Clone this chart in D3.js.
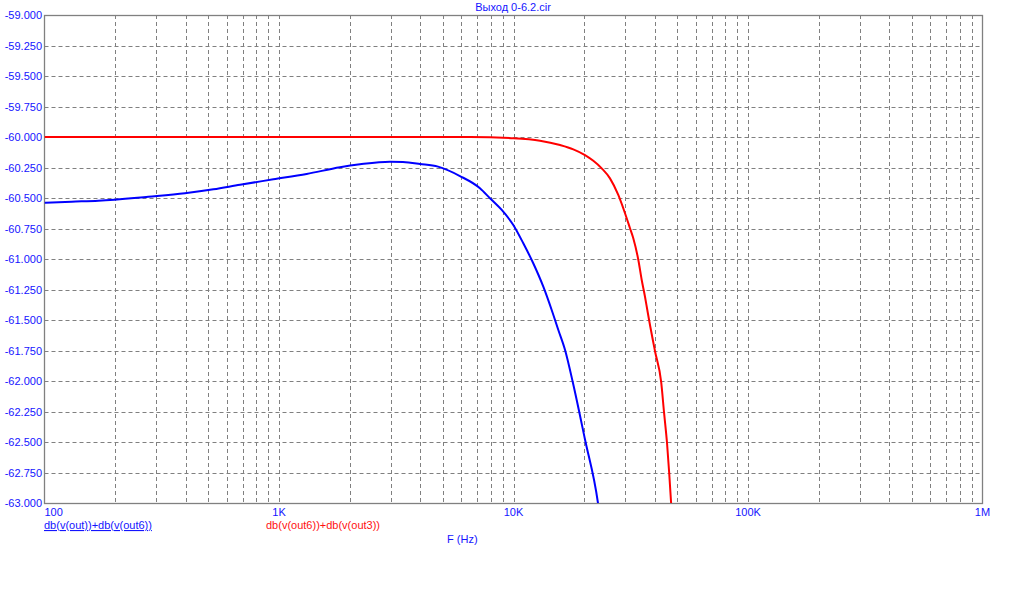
<!DOCTYPE html>
<html><head><meta charset="utf-8">
<script src="https://cdn.jsdelivr.net/npm/d3@7"></script>
<style>body{margin:0;background:#fff}svg{display:block}text{font-family:"Liberation Sans",Arial,sans-serif}</style>
</head><body><svg id="c" width="1011" height="600"></svg>
<script>
const title = "Выход 0-6.2.cir";
const xTickValues = [100, 1000, 10000, 100000, 1000000];
const xTickLabels = ["100", "1K", "10K", "100K", "1M"];
const yTickValues = d3.range(0, 17).map(i => -59 - i * 0.25);
const seriesNames = ["db(v(out))+db(v(out6))", "db(v(out6))+db(v(out3))"];
const xAxisLabel = "F (Hz)";

const blueF = [100, 130.6, 169.6, 277, 397, 525, 682, 946, 1312, 1820, 2215, 2973, 3379, 3993, 4765, 5910, 7194, 7940, 8910, 9980, 11010, 12140, 13400, 14550, 15530, 16590, 17930, 20180, 22920, 24000];
const blueV = [-60.539, -60.530, -60.522, -60.489, -60.461, -60.429, -60.391, -60.347, -60.303, -60.248, -60.224, -60.202, -60.205, -60.221, -60.243, -60.32, -60.420, -60.502, -60.598, -60.721, -60.871, -61.035, -61.227, -61.418, -61.582, -61.746, -62.016, -62.48, -63.0, -63.3];
const redF = [100, 1000, 6524, 10000, 12970, 15790, 17990, 20180, 21900, 23780, 25790, 27980, 29890, 31390, 32420, 34070, 35220, 36370, 37210, 37860, 40170, 42640, 43860, 45160, 46110, 47000, 48000];
const redV = [-60.0, -60.0, -60.0, -60.01, -60.03, -60.066, -60.101, -60.148, -60.195, -60.257, -60.339, -60.475, -60.625, -60.748, -60.83, -61.008, -61.172, -61.309, -61.418, -61.5, -61.76, -62.01, -62.26, -62.51, -62.75, -63.0, -63.3];

const L = 44.5, R = 982.5, T = 15, B = 503;
const svg = d3.select("#c");
const x = d3.scaleLog().domain([100, 1e6]).range([L, R]);
const y = d3.scaleLinear().domain([-63, -59]).range([B, T]);
const gridCol = "#808080", txtCol = "#1414ff";

const vgrid = [];
for (let d = 100; d < 1e6; d *= 10) for (let k = 1; k < 10; k++) vgrid.push(d * k);
svg.append("g").selectAll("line").data(vgrid.filter(v => v > 100)).join("line")
  .attr("x1", d => Math.round(x(d)) + 0.5).attr("x2", d => Math.round(x(d)) + 0.5)
  .attr("y1", T).attr("y2", B).attr("stroke", gridCol).attr("stroke-dasharray", "4,3");
svg.append("g").selectAll("line").data(yTickValues.slice(1, -1)).join("line")
  .attr("y1", d => Math.round(y(d)) + 0.5).attr("y2", d => Math.round(y(d)) + 0.5)
  .attr("x1", L).attr("x2", R).attr("stroke", gridCol).attr("stroke-dasharray", "4,3");
svg.append("rect").attr("x", L).attr("y", T + 0.5).attr("width", R - L).attr("height", B - T)
  .attr("fill", "none").attr("stroke", gridCol).attr("stroke-width", 1.3);

svg.append("g").selectAll("text").data(yTickValues).join("text")
  .attr("x", 42).attr("y", d => y(d) + 4).attr("text-anchor", "end")
  .attr("font-size", 11).attr("fill", txtCol).text(d => d.toFixed(3));
svg.append("g").selectAll("text").data(xTickValues).join("text")
  .attr("x", (d, i) => i === 0 ? L : x(d)).attr("y", 516)
  .attr("text-anchor", (d, i) => i === 0 ? "start" : "middle")
  .attr("font-size", 11).attr("fill", txtCol).text((d, i) => xTickLabels[i]);

svg.append("text").attr("x", 513).attr("y", 11).attr("text-anchor", "middle")
  .attr("font-size", 11).attr("fill", txtCol).text(title);
svg.append("text").attr("x", 44).attr("y", 529).attr("font-size", 11).attr("fill", txtCol)
  .attr("text-decoration", "underline").text(seriesNames[0]);
svg.append("text").attr("x", 266).attr("y", 529).attr("font-size", 11).attr("fill", "#ff1010")
  .text(seriesNames[1]);
svg.append("text").attr("x", 447).attr("y", 543).attr("font-size", 11).attr("fill", txtCol)
  .text(xAxisLabel);

svg.append("clipPath").attr("id", "clip").append("rect")
  .attr("x", L).attr("y", T).attr("width", R - L).attr("height", B - T);
const line = d3.line().x(d => x(d[0])).y(d => y(d[1])).curve(d3.curveMonotoneX);
const g = svg.append("g").attr("clip-path", "url(#clip)");
g.append("path").datum(blueF.map((f, i) => [f, blueV[i]])).attr("d", line)
  .attr("fill", "none").attr("stroke", "#0000ff").attr("stroke-width", 2);
g.append("path").datum(redF.map((f, i) => [f, redV[i]])).attr("d", line)
  .attr("fill", "none").attr("stroke", "#ff0000").attr("stroke-width", 2);
</script></body></html>
